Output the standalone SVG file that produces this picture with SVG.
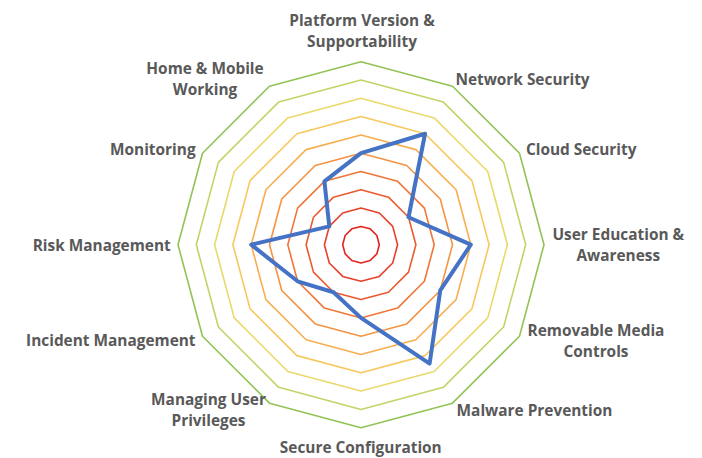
<svg xmlns="http://www.w3.org/2000/svg" width="702" height="458" viewBox="0 0 702 458">
<style>
.ring{fill:none;stroke-width:1.6;stroke-linejoin:round}
.data{fill:none;stroke:#4472C4;stroke-width:4;stroke-linejoin:round}
.lbl{font-family:"Open Sans","Liberation Sans",sans-serif;font-weight:700;font-size:15.4px;fill:#595959;text-anchor:middle}
</style>
<rect width="702" height="458" fill="#FFFFFF"/>
<g id="grid" transform="translate(-0.5 0)">
<polygon class="ring" stroke="#E3231E" points="361.5,226.4 370.65,228.85 377.35,235.55 379.8,244.7 377.35,253.85 370.65,260.55 361.5,263 352.35,260.55 345.65,253.85 343.2,244.7 345.65,235.55 352.35,228.85"/>
<polygon class="ring" stroke="#E8412A" points="361.5,208.1 379.8,213 393.2,226.4 398.1,244.7 393.2,263 379.8,276.4 361.5,281.3 343.2,276.4 329.8,263 324.9,244.7 329.8,226.4 343.2,213"/>
<polygon class="ring" stroke="#EC5A30" points="361.5,189.8 388.95,197.16 409.04,217.25 416.4,244.7 409.04,272.15 388.95,292.24 361.5,299.6 334.05,292.24 313.96,272.15 306.6,244.7 313.96,217.25 334.05,197.16"/>
<polygon class="ring" stroke="#F07638" points="361.5,171.5 398.1,181.31 424.89,208.1 434.7,244.7 424.89,281.3 398.1,308.09 361.5,317.9 324.9,308.09 298.11,281.3 288.3,244.7 298.11,208.1 324.9,181.31"/>
<polygon class="ring" stroke="#F49444" points="361.5,153.2 407.25,165.46 440.74,198.95 453,244.7 440.74,290.45 407.25,323.94 361.5,336.2 315.75,323.94 282.26,290.45 270,244.7 282.26,198.95 315.75,165.46"/>
<polygon class="ring" stroke="#F7AE50" points="361.5,134.9 416.4,149.61 456.59,189.8 471.3,244.7 456.59,299.6 416.4,339.79 361.5,354.5 306.6,339.79 266.41,299.6 251.7,244.7 266.41,189.8 306.6,149.61"/>
<polygon class="ring" stroke="#F8C85E" points="361.5,116.6 425.55,133.76 472.44,180.65 489.6,244.7 472.44,308.75 425.55,355.64 361.5,372.8 297.45,355.64 250.56,308.75 233.4,244.7 250.56,180.65 297.45,133.76"/>
<polygon class="ring" stroke="#EAD96A" points="361.5,98.3 434.7,117.92 488.28,171.5 507.9,244.7 488.28,317.9 434.7,371.48 361.5,391.1 288.3,371.48 234.72,317.9 215.1,244.7 234.72,171.5 288.3,117.92"/>
<polygon class="ring" stroke="#C0D566" points="361.5,80 443.85,102.07 504.13,162.35 526.2,244.7 504.13,327.05 443.85,387.33 361.5,409.4 279.15,387.33 218.87,327.05 196.8,244.7 218.87,162.35 279.15,102.07"/>
<polygon class="ring" stroke="#92C356" points="361.5,61.7 453,86.22 519.98,153.2 544.5,244.7 519.98,336.2 453,403.18 361.5,427.7 270,403.18 203.02,336.2 178.5,244.7 203.02,153.2 270,86.22"/>
</g>
<g id="series" transform="translate(-0.5 0)">
<polygon class="data" points="361.5,153.2 425.55,133.76 409.04,217.25 471.3,244.7 440.74,290.45 430.13,363.56 361.5,317.9 334.05,292.24 298.11,281.3 251.7,244.7 329.8,226.4 324.9,181.31"/>
</g>
<g id="labels">
<g id="lbl-platform"><text class="lbl" x="362" y="25.5">Platform Version &amp;</text><text class="lbl" x="362" y="46.5">Supportability</text></g>
<g id="lbl-network"><text class="lbl" x="522.5" y="85">Network Security</text></g>
<g id="lbl-cloud"><text class="lbl" x="581.2" y="155">Cloud Security</text></g>
<g id="lbl-usered"><text class="lbl" x="618.3" y="240">User Education &amp;</text><text class="lbl" x="618.3" y="260.7">Awareness</text></g>
<g id="lbl-removable"><text class="lbl" x="596" y="335.7">Removable Media</text><text class="lbl" x="596" y="356.7">Controls</text></g>
<g id="lbl-malware"><text class="lbl" x="534.5" y="416">Malware Prevention</text></g>
<g id="lbl-secure"><text class="lbl" x="360.8" y="453.3">Secure Configuration</text></g>
<g id="lbl-privileges"><text class="lbl" x="208.5" y="404.5">Managing User</text><text class="lbl" x="208.5" y="425.5">Privileges</text></g>
<g id="lbl-incident"><text class="lbl" x="110.8" y="346">Incident Management</text></g>
<g id="lbl-risk"><text class="lbl" x="101.7" y="250.7">Risk Management</text></g>
<g id="lbl-monitoring"><text class="lbl" x="152.8" y="155.3">Monitoring</text></g>
<g id="lbl-home"><text class="lbl" x="205" y="74">Home &amp; Mobile</text><text class="lbl" x="205" y="94.5">Working</text></g>
</g>
</svg>
